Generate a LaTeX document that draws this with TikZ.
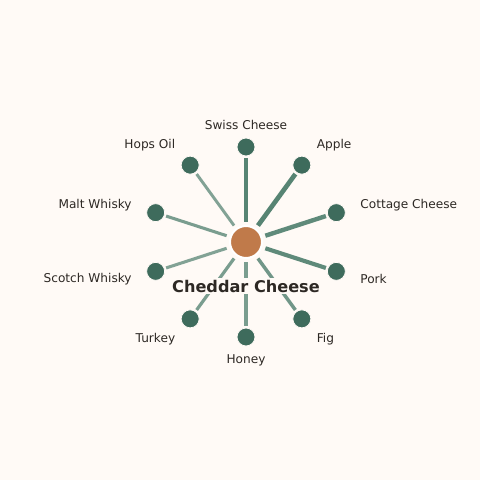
\documentclass[tikz,border=0pt]{standalone}
\usepackage{fontspec}
\setmainfont{DejaVu Sans}
\definecolor{paper}{RGB}{255,250,246}
\definecolor{leaf}{RGB}{62,107,92}
\definecolor{stem}{RGB}{78,126,109}
\definecolor{cheddar}{RGB}{192,122,74}
\definecolor{ink}{RGB}{45,40,36}
\usetikzlibrary{positioning}
\tikzset{
  % nodes
	hubnode/.style   ={circle,fill=cheddar,draw=white,line width=1.5pt,minimum size=24pt,inner sep=0pt},
	pairnode/.style  ={circle,fill=leaf,draw=paper,line width=.6pt,minimum size=13.5pt,inner sep=0pt},
	pairlabel/.style ={text=ink,font=\fontsize{9.1}{11}\selectfont,inner sep=0pt},
	hublabel/.style  ={text=ink,font=\fontsize{12.1}{14}\bfseries\selectfont,fill=paper,inner sep=1.5pt},
  % edge
	pairedge/.style  ={draw=stem,shorten <=2.5pt,shorten >=1.2pt}
}

\begin{document}
\begin{tikzpicture}[x=.75pt,y=.75pt]
	\fill[paper] (-246,-238) rectangle (234,242);
	\useasboundingbox (-246,-238) rectangle (234,242);
	\node[hubnode] (cheddar) at (0,0) {};
	\foreach \ang/\nm/\txt/\anc/\rr/\lw/\opa in {
		90/swiss/Swiss Cheese/south/112/3.4/.95,
		54/apple/Apple/west/120/3.5/.95,
		18/cottage/Cottage Cheese/west/120/3.3/.9,
		-18/pork/Pork/west/120/3.1/.9,
		-54/fig/Fig/west/120/2.6/.8,
		-90/honey/Honey/north/112/2.5/.75,
		-126/turkey/Turkey/east/120/2.4/.75,
		-162/scotch/Scotch Whisky/east/120/2.3/.7,
		162/malt/Malt Whisky/east/120/2.3/.75,
		126/hops/Hops Oil/east/120/2.2/.7}{
		\node[pairnode] (\nm) at (\ang:95) {};
		\node[pairlabel,anchor=\anc] (\nm-l) at (\ang:\rr) {\txt};
		\draw[pairedge,line width=\lw pt,draw opacity=\opa] (cheddar) -- (\nm);
	}
	\node[hublabel] (cheddar-l) at (0,-44) {Cheddar Cheese};
\end{tikzpicture}
\end{document}
